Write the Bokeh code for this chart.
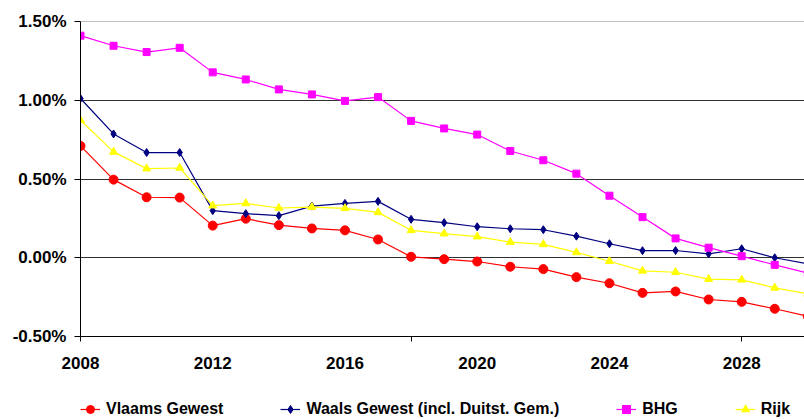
from bokeh.plotting import figure
from bokeh.layouts import column
from bokeh.models import (FixedTicker, PrintfTickFormatter, Legend, LegendItem,
                          Span, Range1d)
from bokeh.embed import file_html
from bokeh.resources import INLINE

years = list(range(2008, 2031))

vlaams = [0.710, 0.496, 0.384, 0.382, 0.204, 0.248, 0.207, 0.186, 0.174, 0.116,
          0.006, -0.009, -0.024, -0.057, -0.072, -0.123, -0.162, -0.223, -0.214,
          -0.265, -0.280, -0.324, -0.372]
waals = [1.011, 0.786, 0.668, 0.668, 0.299, 0.280, 0.267, 0.328, 0.345, 0.358,
         0.244, 0.223, 0.197, 0.184, 0.178, 0.137, 0.089, 0.045, 0.046, 0.025,
         0.057, 0.000, -0.038]
bhg = [1.410, 1.346, 1.306, 1.333, 1.177, 1.132, 1.069, 1.037, 0.996, 1.020,
       0.869, 0.821, 0.782, 0.678, 0.619, 0.534, 0.394, 0.258, 0.123, 0.064,
       0.010, -0.045, -0.097]
rijk = [0.873, 0.672, 0.566, 0.570, 0.331, 0.345, 0.316, 0.322, 0.314, 0.288,
        0.174, 0.153, 0.134, 0.099, 0.085, 0.034, -0.022, -0.083, -0.092, -0.136,
        -0.140, -0.191, -0.229]

x_labels = [2008, 2012, 2016, 2020, 2024, 2028]
x_marks = [2008, 2018, 2028]
y_ticks = [-0.5, 0.0, 0.5, 1.0, 1.5]

series = [
    ("Vlaams Gewest", vlaams, "#FF0000", "circle", 9),
    ("Waals Gewest (incl. Duitst. Gem.)", waals, "#000080", "diamond", 8),
    ("BHG", bhg, "#FF00FF", "square", 7),
    ("Rijk", rijk, "#FFFF00", "triangle", 8),
]

FONT = "Liberation Sans"

p = figure(width=804, height=395, output_backend="svg", toolbar_location=None,
           x_range=Range1d(2008, 2029.9), y_range=Range1d(-0.5, 1.5),
           min_border_left=80, min_border_right=0, min_border_top=21,
           min_border_bottom=59)
p.outline_line_color = None
p.background_fill_color = "white"
p.border_fill_color = "white"

# x axis
p.xaxis.ticker = FixedTicker(ticks=x_labels, minor_ticks=x_marks)
p.xaxis.major_tick_out = 0
p.xaxis.major_tick_in = 0
p.xaxis.minor_tick_out = 5
p.xaxis.minor_tick_in = 0
p.xaxis.minor_tick_line_color = "black"
p.xaxis.axis_line_color = "black"
p.xaxis.major_label_text_font = FONT
p.xaxis.major_label_text_font_style = "bold"
p.xaxis.major_label_text_font_size = "17px"
p.xaxis.major_label_text_color = "black"
p.xaxis.major_label_standoff = 15

# y axis
p.yaxis.ticker = FixedTicker(ticks=y_ticks)
p.yaxis.formatter = PrintfTickFormatter(format="%.2f%%")
p.yaxis.major_tick_out = 6
p.yaxis.major_tick_in = 0
p.yaxis.minor_tick_line_color = None
p.yaxis.axis_line_color = "black"
p.yaxis.major_tick_line_color = "black"
p.yaxis.major_label_text_font = FONT
p.yaxis.major_label_text_font_style = "bold"
p.yaxis.major_label_text_font_size = "17px"
p.yaxis.major_label_text_color = "black"
p.yaxis.major_label_standoff = 8

p.xgrid.grid_line_color = None
p.ygrid.ticker = FixedTicker(ticks=[0.0, 0.5, 1.0])
p.ygrid.grid_line_color = "#303030"
p.ygrid.grid_line_width = 1
p.add_layout(Span(location=1.5, dimension="width", line_color="#808080", line_width=1))

# legend strip below the chart (its own renderers lie outside its ranges)
lg = figure(width=804, height=24, output_backend="svg", toolbar_location=None,
            x_range=Range1d(0, 1), y_range=Range1d(10, 11),
            x_axis_type=None, y_axis_type=None,
            min_border_left=0, min_border_right=0, min_border_top=0,
            min_border_bottom=0)
lg.outline_line_color = None
lg.background_fill_color = "white"
lg.border_fill_color = "white"

items = []
for name, vals, col, mk, sz in series:
    p.line(years, vals, line_color=col, line_width=1.2)
    p.scatter(years, vals, marker=mk, size=sz, fill_color=col, line_color=col)
    lr = lg.line(years, vals, line_color=col, line_width=1.2)
    sr = lg.scatter(years, vals, marker=mk, size=sz, fill_color=col, line_color=col)
    items.append(LegendItem(label=name, renderers=[lr, sr]))

legend = Legend(items=items, orientation="horizontal", location=(0, 0),
                glyph_width=20, glyph_height=20, label_standoff=6, spacing=57,
                padding=0, margin=0, border_line_color=None,
                background_fill_alpha=0,
                label_text_font=FONT, label_text_font_style="bold",
                label_text_font_size="16px", label_text_color="black")
lg.add_layout(legend, "center")

layout = column(p, lg, spacing=0)
open("out.html", "w").write(file_html(layout, INLINE))
